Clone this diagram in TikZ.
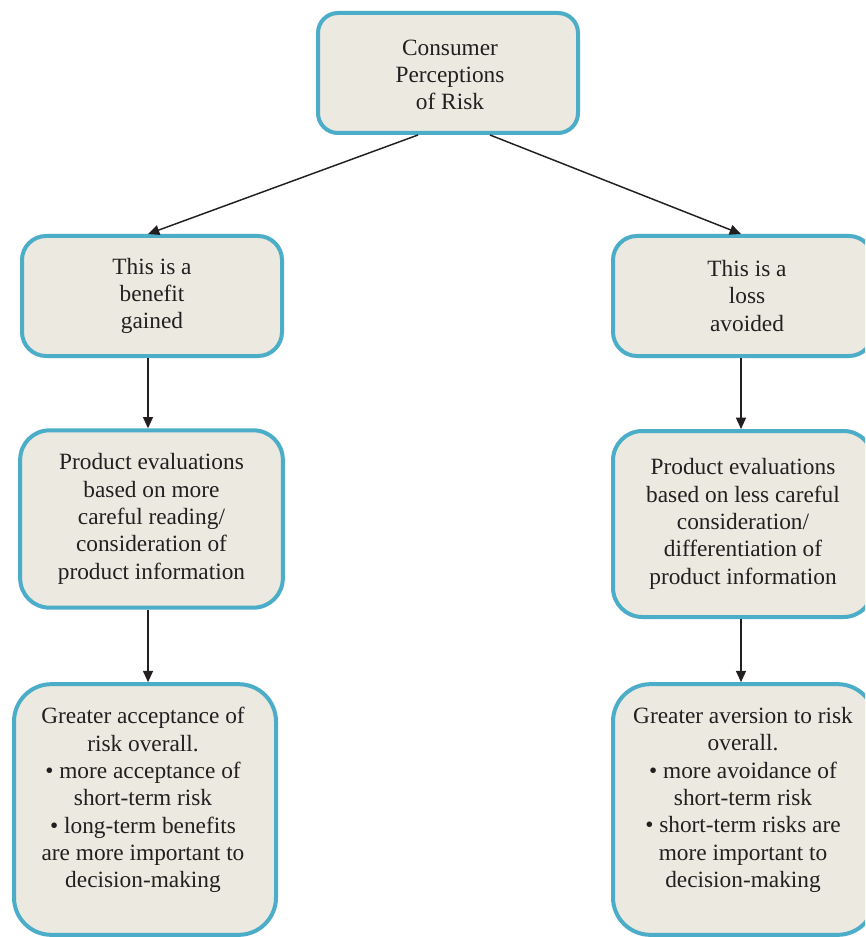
\documentclass[tikz,border=0pt]{standalone}
\usepackage{fontspec}
\setmainfont{Liberation Serif}
\usetikzlibrary{arrows.meta}
\definecolor{riskblue}{RGB}{75,173,199}
\definecolor{riskfill}{RGB}{236,233,224}
\definecolor{risktext}{RGB}{35,31,32}
\tikzset{
  risktextstyle/.style={text=risktext, align=center, inner sep=0pt, font=\fontsize{17.5}{20.5}\selectfont},
  riskbox/.style={risktextstyle, draw=riskblue, line width=3pt, fill=riskfill},
  riskarrow/.style={draw=risktext, line width=1.1pt, -{Triangle[length=8.5pt,width=7.5pt]}}
}
\begin{document}
\begin{tikzpicture}[x=0.75pt,y=0.75pt,yscale=-1,xscale=1]
\useasboundingbox (0,0) rectangle (865,937);
\clip (0,0) rectangle (865,937);

%Top box
\node [riskbox, rounded corners=15pt, minimum width=195pt, minimum height=90pt] (perceptions) at (448,73) {};
\node [risktextstyle] (perceptionstext) at (450,75) {Consumer\\Perceptions\\of Risk};

%Second row
\node [riskbox, rounded corners=18pt, minimum width=195pt, minimum height=90pt] (benefit) at (152,296) {This is a\\benefit\\gained};
\node [riskbox, rounded corners=18pt, minimum width=195pt, minimum height=90pt] (loss) at (743,296) {};
\node [risktextstyle] (losstext) at (747,296) {This is a\\loss\\avoided};

%Third row
\node [riskbox, rounded corners=22pt, minimum width=197pt, minimum height=133pt] (careful) at (151.5,519) {Product evaluations\\based on more\\careful reading/\\consideration of\\product information};
\node [riskbox, rounded corners=22pt, minimum width=195pt, minimum height=139.5pt] (lesscareful) at (743,524) {Product evaluations\\based on less careful\\consideration/\\differentiation of\\product information};

%Bottom row
\node [riskbox, rounded corners=28pt, minimum width=196.5pt, minimum height=188pt] (acceptance) at (145,809.5) {};
\node [risktextstyle] (acceptancetext) at (143,800) {Greater acceptance of\\risk overall.\\\textbullet{} more acceptance of\\short-term risk\\\textbullet{} long-term benefits\\are more important to\\decision-making};
\node [riskbox, rounded corners=28pt, minimum width=196.5pt, minimum height=188pt] (aversion) at (744,809.5) {};
\node [risktextstyle] (aversiontext) at (743,800) {Greater aversion to risk\\overall.\\\textbullet{} more avoidance of\\short-term risk\\\textbullet{} short-term risks are\\more important to\\decision-making};

%Arrows
\draw [riskarrow] ([xshift=-22.5pt]perceptions.south) -- ([xshift=-3pt]benefit.north);
\draw [riskarrow] ([xshift=31.5pt]perceptions.south) -- ([xshift=-1.5pt]loss.north);
\draw [riskarrow] ([xshift=-3pt]benefit.south) -- ([xshift=-3pt]benefit.south |- careful.north);
\draw [riskarrow] ([xshift=-1.5pt]loss.south) -- ([xshift=-1.5pt]loss.south |- lesscareful.north);
\draw [riskarrow] ([xshift=-2.6pt]careful.south) -- ([xshift=-2.6pt]careful.south |- acceptance.north);
\draw [riskarrow] ([xshift=-1.5pt]lesscareful.south) -- ([xshift=-1.5pt]lesscareful.south |- aversion.north);

\end{tikzpicture}
\end{document}
